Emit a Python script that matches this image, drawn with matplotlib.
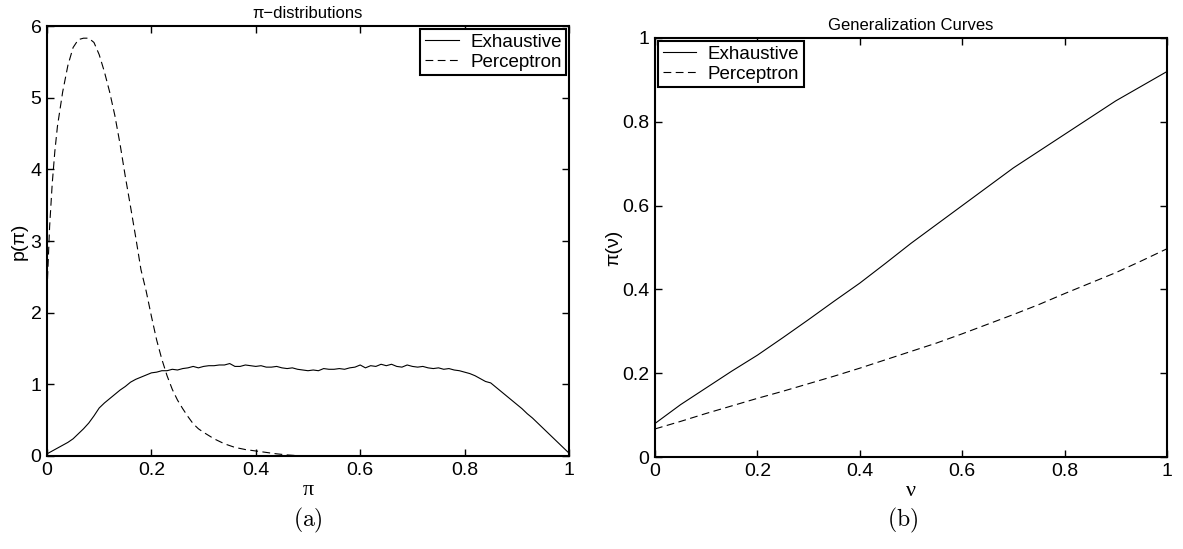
import numpy as np
import matplotlib.pyplot as plt

plt.rcParams['font.family'] = ['Liberation Sans', 'DejaVu Sans']
plt.rcParams['mathtext.fontset'] = 'cm'

# --- (a) pi-distributions
pi_exh = np.arange(101) / 100
p_exh = [0.03, 0.07, 0.11, 0.15, 0.19, 0.24, 0.31, 0.38, 0.46, 0.56,
         0.67, 0.74, 0.80, 0.86, 0.92, 0.97, 1.03, 1.07, 1.10, 1.13,
         1.16, 1.17, 1.19, 1.19, 1.21, 1.20, 1.22, 1.23, 1.25, 1.23,
         1.25, 1.26, 1.26, 1.27, 1.27, 1.29, 1.25, 1.25, 1.27, 1.26,
         1.25, 1.26, 1.24, 1.24, 1.25, 1.23, 1.22, 1.23, 1.21, 1.20,
         1.19, 1.20, 1.19, 1.22, 1.21, 1.21, 1.22, 1.21, 1.23, 1.24,
         1.27, 1.23, 1.26, 1.25, 1.28, 1.26, 1.28, 1.25, 1.24, 1.27,
         1.25, 1.24, 1.25, 1.23, 1.22, 1.23, 1.21, 1.22, 1.20, 1.19,
         1.17, 1.15, 1.12, 1.08, 1.04, 1.02, 0.96, 0.90, 0.84, 0.78,
         0.72, 0.66, 0.59, 0.53, 0.46, 0.39, 0.32, 0.25, 0.18, 0.11,
         0.04]

pi_perc = [0.0, 0.005, 0.01, 0.015, 0.02, 0.03, 0.04, 0.05, 0.06, 0.07,
           0.08, 0.09, 0.10, 0.11, 0.12, 0.13, 0.14, 0.15, 0.16, 0.17,
           0.18, 0.19, 0.20, 0.21, 0.22, 0.23, 0.24, 0.25, 0.26, 0.27,
           0.28, 0.29, 0.30, 0.32, 0.34, 0.36, 0.38, 0.40, 0.42, 0.44,
           0.46, 0.48, 0.50]
p_perc = [2.3, 3.2, 3.8, 4.25, 4.6, 5.08, 5.45, 5.7, 5.81, 5.83,
          5.83, 5.77, 5.6, 5.36, 5.08, 4.75, 4.35, 3.9, 3.48, 3.05,
          2.6, 2.3, 1.95, 1.62, 1.35, 1.12, 0.93, 0.78, 0.66, 0.55,
          0.45, 0.38, 0.33, 0.24, 0.17, 0.12, 0.09, 0.07, 0.05, 0.03,
          0.015, 0.005, 0.0]

# --- (b) generalization curves
nu = np.arange(21) / 20
gen_exh = [0.08, 0.125, 0.165, 0.205, 0.243, 0.285, 0.328, 0.372, 0.415, 0.462,
           0.51, 0.555, 0.60, 0.645, 0.69, 0.73, 0.77, 0.81, 0.85, 0.885,
           0.92]
gen_perc = [0.067, 0.085, 0.104, 0.122, 0.14, 0.157, 0.175, 0.193, 0.212, 0.232,
            0.252, 0.272, 0.294, 0.317, 0.34, 0.364, 0.39, 0.415, 0.44, 0.468,
            0.497]

xticks = [0, 0.2, 0.4, 0.6, 0.8, 1]
xticklabels = ['0', '0.2', '0.4', '0.6', '0.8', '1']


def style_axes(ax):
    for s in ax.spines.values():
        s.set_linewidth(1.5)
    ax.tick_params(direction='in', length=5, width=1, top=True, right=True,
                   labelsize=14, pad=4)
    ax.set_xlim(0, 1)
    ax.set_xticks(xticks)
    ax.set_xticklabels(xticklabels)


def add_legend(ax, loc):
    leg = ax.legend(loc=loc, fontsize=13.5, fancybox=False, framealpha=1,
                    edgecolor='black', borderaxespad=0.15, handlelength=1.8,
                    handletextpad=0.6, labelspacing=0.15, borderpad=0.25)
    leg.get_frame().set_linewidth(1.5)


fig = plt.figure(figsize=(11.83, 5.49), dpi=100)
W, H = 1183, 549

ax1 = fig.add_axes([47 / W, 1 - 456 / H, 522 / W, 430 / H])
ax1.plot(pi_exh, p_exh, color='black', lw=0.8, label='Exhaustive')
ax1.plot(pi_perc, p_perc, color='black', lw=0.8, dashes=(7, 4), label='Perceptron')
style_axes(ax1)
ax1.set_ylim(0, 6)
ax1.set_yticks(range(7))
ax1.set_title('π−distributions', fontsize=12, pad=6)
ax1.set_xlabel('π', family='Liberation Serif', fontsize=16, labelpad=2)
ax1.set_ylabel('p(π)', fontsize=14, labelpad=2)
add_legend(ax1, 'upper right')

ax2 = fig.add_axes([655 / W, 1 - 457 / H, 512 / W, 419 / H])
ax2.plot(nu, gen_exh, color='black', lw=0.8, label='Exhaustive')
ax2.plot(nu, gen_perc, color='black', lw=0.8, dashes=(7, 4), label='Perceptron')
style_axes(ax2)
ax2.set_ylim(0, 1)
ax2.set_yticks(xticks)
ax2.set_yticklabels(xticklabels)
ax2.set_title('Generalization Curves', fontsize=12, pad=6)
ax2.set_xlabel('ν', family='Liberation Serif', fontsize=16, labelpad=2)
ax2.set_ylabel('π(ν)', fontsize=14, labelpad=0)
add_legend(ax2, 'upper left')

fig.text(308 / W, 1 - 520 / H, r'$\mathrm{(a)}$', fontsize=17, ha='center', va='center')
fig.text(903 / W, 1 - 520 / H, r'$\mathrm{(b)}$', fontsize=17, ha='center', va='center')

fig.savefig('out.png', dpi=100)
